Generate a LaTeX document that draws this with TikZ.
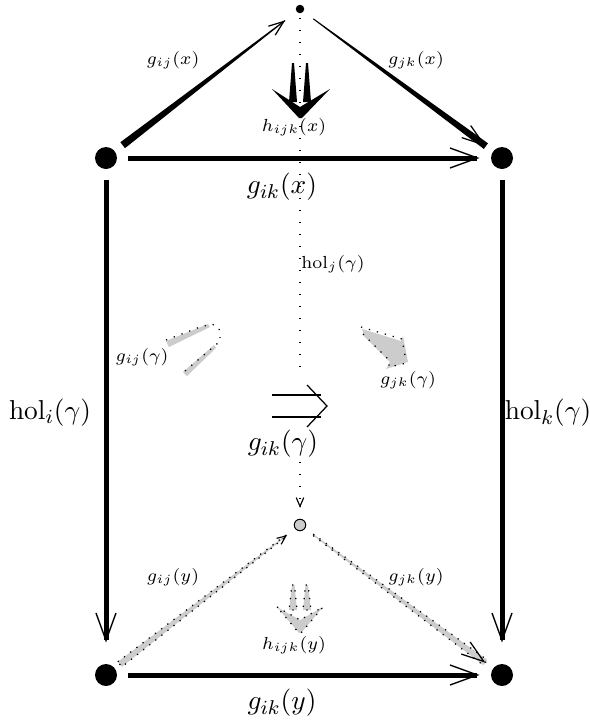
\documentclass[tikz,border=0pt]{standalone}
\usetikzlibrary{arrows.meta,calc}
\newcommand\taperfill[5]{\path[#1] ($(#2)!#4!90:(#3)$) -- ($(#3)!#5!-90:(#2)$) -- ($(#3)!#5!90:(#2)$) -- ($(#2)!#4!-90:(#3)$) -- cycle;}
\begin{document}
\begin{tikzpicture}[x=0.4pt,y=-0.4pt,
  bigdot/.style={circle,fill=black,inner sep=0pt,minimum size=8.8pt},
  smalldot/.style={circle,fill=black,inner sep=0pt,minimum size=3.4pt},
  greydot/.style={circle,fill=gray!40,draw=black,line width=0.4pt,inner sep=0pt,minimum size=4.6pt},
  lab/.style={font=\scriptsize,inner sep=0pt},
  biglab/.style={font=\fontsize{10.95}{13}\selectfont,inner sep=0pt},
  heavy/.style={line width=2pt,-{Straight Barb[length=11pt,width=8pt,line width=0.55pt]}},
  tipsmall/.style={line width=0.4pt,-{Straight Barb[length=6pt,width=4.5pt,line width=0.5pt]}},
  tipmid/.style={line width=0.4pt,-{Straight Barb[length=9pt,width=6pt,line width=0.5pt]}},
  tiptiny/.style={line width=0.4pt,-{Straight Barb[length=3.5pt,width=3pt,line width=0.45pt]}},
  greyshaft/.style={fill=gray!40,draw=black,line width=0.5pt,dash pattern=on 0.5pt off 2.6pt},
  dotline/.style={line width=0.5pt,dash pattern=on 0.5pt off 2.8pt},
  sparse/.style={line width=0.5pt,dash pattern=on 0.5pt off 4.3pt},
  thinline/.style={line width=0.5pt},
]
\useasboundingbox (0,0) rectangle (590,721);

% nodes
\node[smalldot] (j) at (300,9) {};
\node[bigdot] (i) at (106,158) {};
\node[bigdot] (k) at (502,158) {};
\node[bigdot] (i2) at (106,675) {};
\node[bigdot] (k2) at (502,675) {};
\node[greydot] (j2) at (300,525) {};

% vertical dotted arrow j -> j2
\draw[sparse,shorten <=1.5pt,shorten >=4.4pt] (j) -- (j2);
\draw[tiptiny,shorten >=4.4pt] ($(j2)!7.5pt!(j)$) -- (j2);

% top triangle
\coordinate (ijA) at ($(i)!8.4pt!(j)$);
\coordinate (ijB) at ($(j)!7.5pt!(i)$);
\taperfill{fill=black}{ijA}{ijB}{1.5pt}{0.2pt}
\draw[tipsmall] ($(ijB)!1pt!(ijA)$) -- (ijB);

\coordinate (jkA) at ($(j)!6.6pt!(k)$);
\coordinate (jkB) at ($(k)!8pt!(j)$);
\taperfill{fill=black}{jkA}{jkB}{0.2pt}{1.4pt}
\draw[tipmid] ($(jkB)!1pt!(jkA)$) -- (jkB);

\draw[heavy,shorten <=4pt,shorten >=4.4pt] (i) -- (k);

% verticals
\draw[heavy,shorten <=4pt,shorten >=8.4pt] (i) -- (i2);
\draw[heavy,shorten <=4pt,shorten >=8.4pt] (k) -- (k2);

% bottom triangle
\draw[heavy,shorten <=4pt,shorten >=4.4pt] (i2) -- (k2);

\coordinate (ij2A) at ($(i2)!7pt!(j2)$);
\coordinate (ij2B) at ($(j2)!6.6pt!(i2)$);
\taperfill{greyshaft}{ij2A}{ij2B}{1.3pt}{0.25pt}
\draw[tiptiny] ($(ij2B)!1pt!(ij2A)$) -- (ij2B);

\coordinate (jk2A) at ($(j2)!6.4pt!(k2)$);
\coordinate (jk2B) at ($(k2)!8.3pt!(j2)$);
\taperfill{greyshaft}{jk2A}{jk2B}{0.25pt}{1.3pt}
\draw[tipmid] ($(jk2B)!1pt!(jk2A)$) -- (jk2B);

% top double arrow h_ijk(x)
\fill (292,63) -- (294,63) -- (297,102) -- (289,102) -- cycle;
\fill (306,63) -- (308,63) -- (311,102) -- (303,102) -- cycle;
\fill (272,89) -- (300,107) -- (330,89) -- (302,118) -- (299,118) -- cycle;

% bottom double arrow h_ijk(y)
\path[greyshaft] (292,585) -- (294.5,585) -- (297,610) -- (289,610) -- cycle;
\path[greyshaft] (305.5,585) -- (308,585) -- (311,610) -- (303,610) -- cycle;
\path[greyshaft] (277,607) -- (300,620) -- (323,607) -- (301,633) -- (299,633) -- cycle;

% g_ij(gamma) piece
\fill[gray!40] (166,341) -- (208,324) -- (210,327) -- (169,347) -- cycle;
\fill[gray!40] (183,372) -- (214,345) -- (216,348) -- (187,376) -- cycle;
\draw[dotline] (166,340) -- (200,327) -- (212,324) -- (219,328) -- (220,338);
\draw[dotline] (185,371) -- (218,343);

% g_jk(gamma) piece
\fill[gray!40] (362,329) -- (401,341) -- (403,336) -- (408,362) -- (386,369) -- (390,362) -- (364,336) -- cycle;
\draw[dotline] (361,327) -- (402,339) -- (406,361);
\draw[dotline] (363,334) -- (389,360) -- (389,367) -- (407,363);

% middle Rightarrow g_ik(gamma)
\fill[white] (266,378) rectangle (334,457);
\draw[thinline] (272,395) -- (321,395);
\draw[thinline] (272,417) -- (321,417);
\draw[thinline] (307,385) -- (327,406) -- (307,427);

% labels
\node[lab] (lgijx) at (173,60) {$g_{ij}(x)$};
\node[lab] (lgjkx) at (416,60) {$g_{jk}(x)$};
\node[lab] (lhx) at (294,127) {$h_{ijk}(x)$};
\node[biglab] (lgikx) at (282,187) {$g_{ik}(x)$};
\node[lab] (lholj) at (333,264) {$\mathrm{hol}_j(\gamma)$};
\node[lab] (lgijg) at (142,357) {$g_{ij}(\gamma)$};
\node[lab] (lgjkg) at (408,380) {$g_{jk}(\gamma)$};
\node[biglab] (lgikg) at (283,444) {$g_{ik}(\gamma)$};
\node[biglab] (lholi) at (50,413) {$\mathrm{hol}_i(\gamma)$};
\node[biglab] (lholk) at (548,413) {$\mathrm{hol}_k(\gamma)$};
\node[lab] (lgijy) at (173,577) {$g_{ij}(y)$};
\node[lab] (lgjky) at (416,577) {$g_{jk}(y)$};
\node[lab] (lhy) at (294,645) {$h_{ijk}(y)$};
\node[biglab] (lgiky) at (282,703) {$g_{ik}(y)$};
\end{tikzpicture}
\end{document}
